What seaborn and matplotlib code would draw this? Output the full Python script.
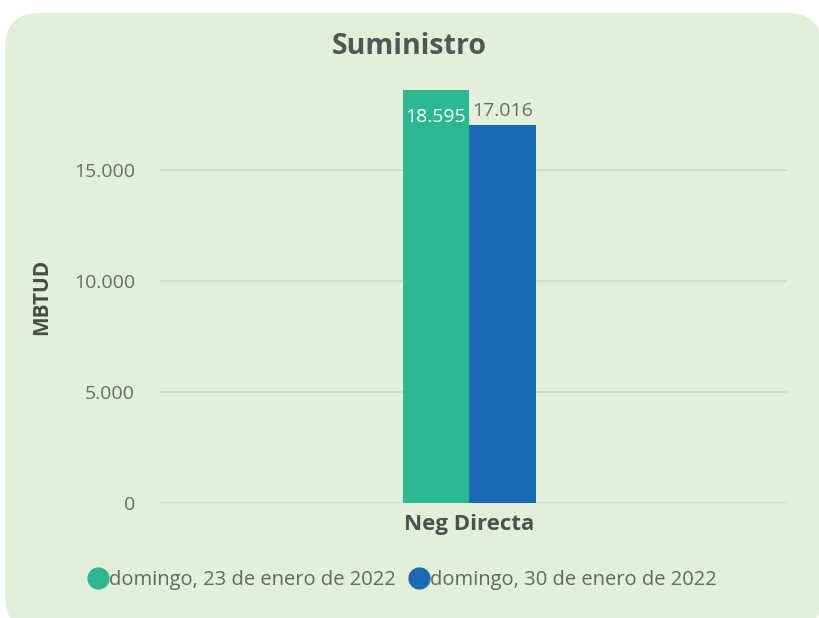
import matplotlib
matplotlib.use("Agg")
import matplotlib.pyplot as plt
from matplotlib.patches import FancyBboxPatch
from matplotlib.lines import Line2D
from matplotlib.ticker import FuncFormatter
import pandas as pd
import seaborn as sns

categories = ["Neg Directa"]
fechas = ["domingo, 23 de enero de 2022", "domingo, 30 de enero de 2022"]
valores = [18595, 17016]
colores = ["#2bb78f", "#1a6bb4"]

df = pd.DataFrame({"categoria": categories * 2, "fecha": fechas, "valor": valores})

sns.set_theme(style="white")
plt.rcParams["font.family"] = ["Open Sans", "DejaVu Sans"]

fig = plt.figure(figsize=(8.19, 6.18), dpi=100)
fig.patch.set_facecolor("white")

# panel redondeado de fondo (en pulgadas)
panel = FancyBboxPatch((0.05, -0.13), 8.17, 6.18,
                       boxstyle="round,pad=0,rounding_size=0.35",
                       transform=fig.dpi_scale_trans, facecolor="#e2efd9",
                       edgecolor="none", zorder=-10)
fig.patches.append(panel)

ax = fig.add_axes([160 / 819, 1 - 503 / 618, 627 / 819, 413 / 618])
ax.set_facecolor("none")
ax.set_zorder(2)

sns.barplot(data=df, x="categoria", y="valor", hue="fecha", palette=colores,
            width=0.212, saturation=1, linewidth=0, ax=ax, legend=False, zorder=3)

ax.set_xlim(-0.493, 0.507)
ax.set_ylim(0, 18595)
ax.set_yticks([0, 5000, 10000, 15000])
ax.yaxis.set_major_formatter(FuncFormatter(lambda v, p: f"{int(v):,}".replace(",", ".")))
ax.grid(axis="y", color="#d3d9d1", linewidth=1.3, zorder=0)
ax.set_axisbelow(True)
ax.tick_params(axis="y", length=0, labelsize=14, labelcolor="#6b6b6b", pad=18)
ax.tick_params(axis="x", length=0, labelsize=16, labelcolor="#505050", pad=8)
for lbl in ax.get_xticklabels():
    lbl.set_fontweight("bold")
for s in ax.spines.values():
    s.set_visible(False)
ax.set_xlabel("")
ax.set_ylabel("")

def fmt(v):
    return f"{int(v):,}".replace(",", ".")

ax.bar_label(ax.containers[0], labels=[fmt(valores[0])], padding=-26,
             color="white", fontsize=14)
ax.bar_label(ax.containers[1], labels=[fmt(valores[1])], padding=4,
             color="#6b6b6b", fontsize=14)

fig.text(0.5, 1 - 46 / 618, "Suministro", ha="center", va="center",
         fontsize=20.5, fontweight="bold", color="#555555")
fig.text(42 / 819, 1 - 297 / 618, "MBTUD", rotation=90, ha="center", va="center",
         fontsize=15, fontweight="bold", color="#4a4a4a")

handles = [Line2D([], [], marker="o", linestyle="none", markersize=15,
                  markerfacecolor=c, markeredgecolor=c) for c in colores]
fig.legend(handles, fechas, loc="center", bbox_to_anchor=(0.49, 1 - 580 / 618),
           ncol=2, frameon=False, fontsize=14.5, labelcolor="#666666",
           handletextpad=-0.1, columnspacing=0.6, handlelength=1.2)

fig.savefig("out.png", dpi=100)
